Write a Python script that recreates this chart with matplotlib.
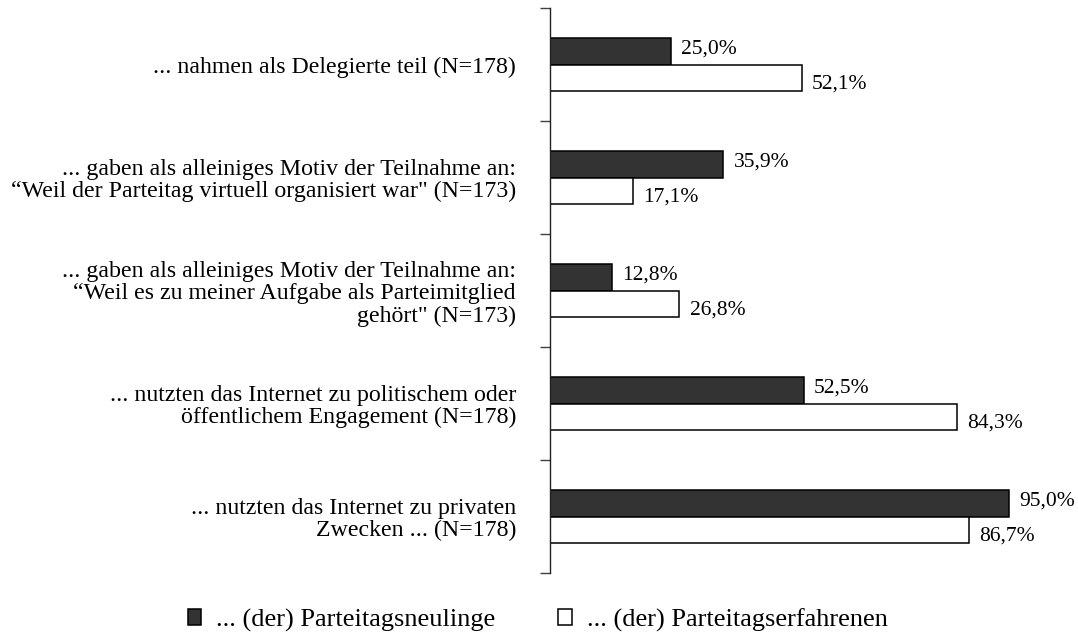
import matplotlib
matplotlib.use("Agg")
import matplotlib.pyplot as plt
from matplotlib.patches import Patch

categories = [
    "... nahmen als Delegierte teil (N=178)",
    "... gaben als alleiniges Motiv der Teilnahme an:\n\u201cWeil der Parteitag virtuell organisiert war\" (N=173)",
    "... gaben als alleiniges Motiv der Teilnahme an:\n\u201cWeil es zu meiner Aufgabe als Parteimitglied\ngehört\" (N=173)",
    "... nutzten das Internet zu politischem oder\nöffentlichem Engagement (N=178)",
    "... nutzten das Internet zu privaten\nZwecken ... (N=178)",
]
neulinge = [25.0, 35.9, 12.8, 52.5, 95.0]
erfahrene = [52.1, 17.1, 26.8, 84.3, 86.7]
series_names = ["... (der) Parteitagsneulinge", "... (der) Parteitagserfahrenen"]

plt.rcParams["font.family"] = ["Liberation Serif", "DejaVu Serif"]

fig = plt.figure(figsize=(10.78, 6.38), dpi=100)
ax = fig.add_axes([550 / 1078, 1 - 573 / 638, 483 / 1078, 565 / 638])

h = 0.234
pos = list(range(len(categories)))
dark = ax.barh([p - h / 2 for p in pos], neulinge, height=h, color="#333333",
               edgecolor="black", linewidth=1.1)
light = ax.barh([p + h / 2 for p in pos], erfahrene, height=h, color="white",
                edgecolor="black", linewidth=1.1)

for bar, v in zip(dark, neulinge):
    ax.annotate(f"{v:.1f}%".replace(".", ","), (bar.get_width(), bar.get_y() + bar.get_height() / 2),
                xytext=(7.5, 1.5), textcoords="offset points", ha="left", va="center", fontsize=15.5)
for bar, v in zip(light, erfahrene):
    ax.annotate(f"{v:.1f}%".replace(".", ","), (bar.get_width(), bar.get_y() + bar.get_height() / 2),
                xytext=(7.5, -4.5), textcoords="offset points", ha="left", va="center", fontsize=15.5)

ax.set_xlim(0, 100)
ax.set_ylim(len(categories) - 0.5, -0.5)
ax.set_yticks(pos)
ax.set_yticklabels(categories, fontsize=17.2, ha="right", linespacing=1.08)
ax.tick_params(axis="y", which="major", length=0, pad=24.5)
ax.set_yticks([p - 0.5 for p in pos] + [len(categories) - 0.5], minor=True)
ax.tick_params(axis="y", which="minor", length=7, width=1, color="#404040", direction="out")
ax.set_xticks([])
for side in ["top", "right", "bottom"]:
    ax.spines[side].set_visible(False)
ax.spines["left"].set_linewidth(1)
ax.spines["left"].set_color("#202020")

handles = [Patch(facecolor="#333333", edgecolor="black", linewidth=1.1),
           Patch(facecolor="white", edgecolor="black", linewidth=1.1)]
fig.legend(handles, series_names, loc="center", bbox_to_anchor=(0.4986, 1 - 620 / 638), ncol=2,
           frameon=False, fontsize=19, handlelength=0.52, handleheight=0.52, handletextpad=0.55,
           columnspacing=2.4, borderpad=0)

fig.savefig("out.png", dpi=100)
